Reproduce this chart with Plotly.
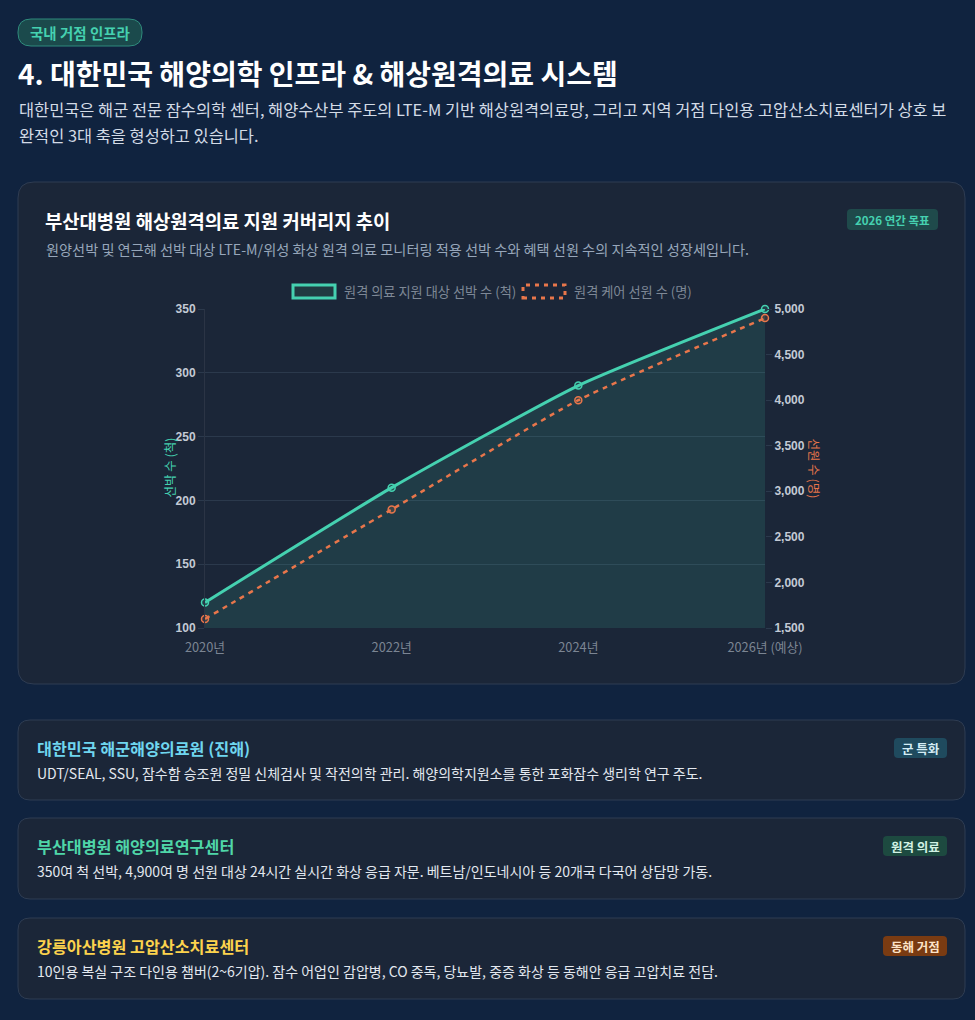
import plotly.graph_objects as go

# ---------------- data ----------------
years = ["2020년", "2022년", "2024년", "2026년 (예상)"]
ships = [120, 210, 290, 350]
crew = [1600, 2800, 4000, 4900]
left_ticks = [100, 150, 200, 250, 300, 350]
right_ticks = [1500, 2000, 2500, 3000, 3500, 4000, 4500, 5000]
series_names = ["원격 의료 지원 대상 선박 수 (척)", "원격 케어 선원 수 (명)"]

# figure sized so that with the default 8px body margin the page fits the window
OFF = 8
W, H = 975 - 2 * OFF, 1020 - 2 * OFF
def X(px): return (px - OFF) / W
def Y(py): return 1 - (py - OFF) / H

BG = "#10233f"
CARD = "#1b2638"
CARD_BORDER = "#2e3c52"
TEAL = "#45d1b0"
ORANGE = "#e8764b"
KR = "Noto Sans CJK KR"

def rrect(x0, y0, x1, y1, r):
    rx, ry = r / W, r / H
    a, b, c, d = X(x0), Y(y0), X(x1), Y(y1)
    return (f"M {a+rx} {b} L {c-rx} {b} Q {c} {b} {c} {b-ry} "
            f"L {c} {d+ry} Q {c} {d} {c-rx} {d} L {a+rx} {d} "
            f"Q {a} {d} {a} {d+ry} L {a} {b-ry} Q {a} {b} {a+rx} {b} Z")

shapes = []
annotations = []

def card(x0, y0, x1, y1, r, fill, line, lw=1, dash=None):
    shapes.append(dict(type="path", path=rrect(x0, y0, x1, y1, r), xref="paper", yref="paper",
                       fillcolor=fill, line=dict(color=line, width=lw, dash=dash), layer="below"))

def text(x, y, s, size, color, bold=False, anchor="left", family=KR):
    annotations.append(dict(x=X(x), y=Y(y), xref="paper", yref="paper", text=s, showarrow=False,
                            xanchor=anchor, yanchor="middle",
                            font=dict(family=family, size=size, color=color,
                                      weight="bold" if bold else "normal")))

# header
card(18, 19, 142, 46, 13, "#1b4a4c", "#2f8a7c", 1)
text(80, 32.5, "국내 거점 인프라", 14.5, TEAL, True, "center")
text(16, 73, "4. 대한민국 해양의학 인프라 & 해상원격의료 시스템", 28, "#ffffff", True)
text(17, 109, "대한민국은 해군 전문 잠수의학 센터, 해양수산부 주도의 LTE-M 기반 해상원격의료망, 그리고 지역 거점 다인용 고압산소치료센터가 상호 보", 16.4, "#d3dbe6")
text(17, 135, "완적인 3대 축을 형성하고 있습니다.", 16.4, "#d3dbe6")

# chart card
card(18, 182, 965, 684, 16, CARD, CARD_BORDER, 1)
text(43, 220, "부산대병원 해상원격의료 지원 커버리지 추이", 18.8, "#ffffff", True)
card(847, 209, 938, 230, 4, "#1f4a4b", "#1f4a4b", 0)
text(892.5, 219.5, "2026 연간 목표", 11.5, TEAL, True, "center")
text(44, 249, "원양선박 및 연근해 선박 대상 LTE-M/위성 화상 원격 의료 모니터링 적용 선박 수와 혜택 선원 수의 지속적인 성장세입니다.", 14.2, "#97a6ba")

# custom legend
shapes.append(dict(type="rect", xref="paper", yref="paper", x0=X(293), x1=X(335), y0=Y(298), y1=Y(285),
                   fillcolor="#213a41", line=dict(color=TEAL, width=3)))
text(342, 291.5, series_names[0], 13.2, "#7e8896")
shapes.append(dict(type="rect", xref="paper", yref="paper", x0=X(523), x1=X(565), y0=Y(298), y1=Y(285),
                   fillcolor="rgba(0,0,0,0)", line=dict(color=ORANGE, width=3, dash="4px,5px")))
text(572, 291.5, series_names[1], 13.2, "#7e8896")

# axis titles
annotations.append(dict(x=X(157), y=Y(468), xref="paper", yref="paper", text="선박 수 (척)", showarrow=False,
                        textangle=-90, font=dict(family=KR, size=12.5, color=TEAL)))
annotations.append(dict(x=X(826), y=Y(468), xref="paper", yref="paper", text="선원 수 (명)", showarrow=False,
                        textangle=90, font=dict(family=KR, size=12.5, color=ORANGE)))

# info cards
cards = [
    (720, 800, "대한민국 해군해양의료원 (진해)", "#6fd6ef",
     "UDT/SEAL, SSU, 잠수함 승조원 정밀 신체검사 및 작전의학 관리. 해양의학지원소를 통한 포화잠수 생리학 연구 주도.",
     "군 특화", "#1f4a5e", "#d3ecf5", 894),
    (818, 899, "부산대병원 해양의료연구센터", "#4fd6a8",
     "350여 척 선박, 4,900여 명 선원 대상 24시간 실시간 화상 응급 자문. 베트남/인도네시아 등 20개국 다국어 상담망 가동.",
     "원격 의료", "#1d4a40", "#d1f2e4", 883),
    (918, 999, "강릉아산병원 고압산소치료센터", "#fcd34d",
     "10인용 복실 구조 다인용 챔버(2~6기압). 잠수 어업인 감압병, CO 중독, 당뇨발, 중증 화상 등 동해안 응급 고압치료 전담.",
     "동해 거점", "#7a3b12", "#fde3c8", 883),
]
for (y0, y1, title, tcol, desc, badge, bcol, btxt, bx0) in cards:
    card(18, y0, 965, y1, 12, CARD, CARD_BORDER, 1)
    text(35, y0 + 28, title, 16.2, tcol, True)
    text(35, y0 + 53, desc, 14, "#e3e8ef")
    card(bx0, y0 + 18, 947, y0 + 38, 4, bcol, bcol, 0)
    text((bx0 + 947) / 2, y0 + 28, badge, 12.5, btxt, True, "center")

fig = go.Figure()
xs = list(range(len(years)))
fig.add_trace(go.Scatter(
    x=xs, y=ships, name=series_names[0], mode="lines+markers", yaxis="y",
    line=dict(color=TEAL, width=3, shape="spline", smoothing=0.5),
    marker=dict(size=7, color="rgba(69,209,176,0.15)", line=dict(color=TEAL, width=1.5)),
    fill="tozeroy", fillcolor="rgba(69,209,176,0.13)", cliponaxis=False, showlegend=False))
fig.add_trace(go.Scatter(
    x=xs, y=crew, name=series_names[1], mode="lines+markers", yaxis="y2",
    line=dict(color=ORANGE, width=2.5, shape="spline", smoothing=0.5, dash="5px,5px"),
    marker=dict(size=7, color="rgba(232,118,75,0.15)", line=dict(color=ORANGE, width=1.5)),
    cliponaxis=False, showlegend=False))

tickfont = dict(family="Liberation Sans", size=12, color="#c3cad5", weight="bold")
fig.update_layout(
    width=W, height=H, margin=dict(l=0, r=0, t=0, b=0, autoexpand=False),
    paper_bgcolor=BG, plot_bgcolor="rgba(0,0,0,0)",
    shapes=shapes, annotations=annotations, showlegend=False,
    xaxis=dict(domain=[X(205), X(765)], range=[0, 3], tickvals=xs, ticktext=years,
               showgrid=False, zeroline=False, showline=False, ticks="outside", ticklen=8,
               tickcolor="rgba(0,0,0,0)",
               tickfont=dict(family=KR, size=12.8, color="#7b8593"), fixedrange=True),
    yaxis=dict(domain=[Y(628), Y(309)], range=[100, 350], tickvals=left_ticks,
               showgrid=True, gridcolor="#2b394c", gridwidth=1, zeroline=False,
               showline=True, linecolor="#2b3445", linewidth=1,
               ticks="outside", ticklen=6, tickcolor="#2b394c", tickfont=tickfont),
    yaxis2=dict(overlaying="y", side="right", range=[1500, 5000], tickvals=right_ticks,
                tickformat=",d", showgrid=False, zeroline=False, showline=False,
                ticks="outside", ticklen=6, tickcolor="#2b394c", tickfont=tickfont),
)

fig.write_html("out.html", config={"displayModeBar": False},
               post_script="document.body.style.background='" + BG + "';")
